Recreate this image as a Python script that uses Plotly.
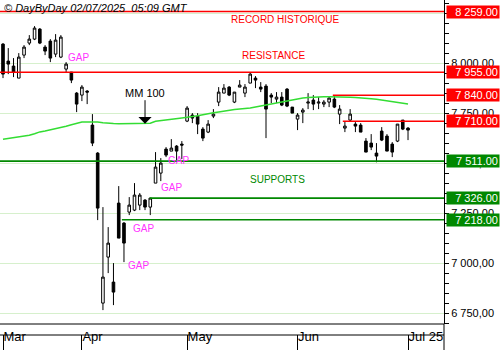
import plotly.graph_objects as go

# ---- data (CAC 40 daily, 11 Mar 2025 -> 1 Jul 2025) ----
open_ = [8096, 8011, 7986, 7926, 8041, 8101, 8121, 8171, 8081, 8111, 8046, 8031, 7971, 7956,
         7851, 7841, 7861, 7691, 7551, 6801, 7031, 6906, 7301, 7201, 7256, 7266, 7291, 7316, 7281,
         7401, 7451, 7571, 7561, 7586, 7596, 7711, 7741, 7736, 7671, 7656, 7736, 7806, 7851, 7881,
         7806, 7881, 7851, 7901, 7926, 7881, 7886, 7841, 7821, 7831, 7871, 7781, 7721, 7756, 7801,
         7816, 7801, 7796, 7806, 7821, 7746, 7676, 7716, 7696, 7691, 7611, 7601, 7551, 7661, 7636,
         7596, 7611, 7716, 7676]
high = [8101, 8076, 8026, 8051, 8091, 8141, 8186, 8176, 8091, 8121, 8146, 8141, 8006, 7956,
        7856, 7891, 7866, 7746, 7556, 7281, 7181, 7001, 7386, 7206, 7331, 7401, 7351, 7321, 7326,
        7556, 7526, 7581, 7621, 7591, 7611, 7786, 7751, 7751, 7681, 7716, 7771, 7881, 7896, 7886,
        7856, 7916, 7896, 7956, 7936, 7906, 7896, 7851, 7856, 7856, 7876, 7781, 7751, 7776, 7851,
        7841, 7831, 7816, 7831, 7840, 7791, 7711, 7771, 7706, 7701, 7626, 7646, 7601, 7681, 7646,
        7606, 7696, 7716, 7681]
low = [7926, 7946, 7931, 7926, 8026, 8091, 8116, 8096, 8041, 8006, 8031, 8026, 7956, 7901,
       7756, 7811, 7796, 7586, 7216, 6766, 6951, 6791, 7126, 7006, 7241, 7261, 7266, 7266, 7241,
       7401, 7411, 7531, 7561, 7516, 7521, 7706, 7701, 7646, 7611, 7651, 7726, 7786, 7851, 7836,
       7801, 7881, 7831, 7901, 7876, 7856, 7626, 7801, 7801, 7786, 7781, 7751, 7666, 7701, 7771,
       7766, 7771, 7781, 7781, 7776, 7696, 7656, 7711, 7656, 7656, 7556, 7566, 7505, 7611, 7561,
       7531, 7606, 7666, 7616]
close = [7946, 7996, 7956, 8031, 8081, 8121, 8176, 8101, 8061, 8026, 8116, 8131, 7996, 7916,
         7796, 7881, 7856, 7601, 7276, 6931, 7101, 6856, 7126, 7101, 7291, 7341, 7341, 7281, 7326,
         7481, 7501, 7541, 7576, 7561, 7591, 7776, 7726, 7696, 7626, 7696, 7746, 7856, 7876, 7841,
         7856, 7891, 7881, 7946, 7916, 7871, 7771, 7831, 7831, 7791, 7786, 7751, 7741, 7766, 7806,
         7796, 7806, 7806, 7826, 7781, 7771, 7686, 7746, 7686, 7656, 7556, 7581, 7536, 7616, 7561,
         7556, 7696, 7671, 7666]
ma100 = [7620, 7624, 7628, 7632, 7636, 7640, 7648, 7657, 7662, 7667, 7673, 7678, 7685, 7693,
         7700, 7706, 7707, 7708, 7706, 7703, 7700, 7699, 7698, 7698, 7698, 7697, 7697, 7698, 7700,
         7710, 7714, 7718, 7721, 7724, 7727, 7730, 7733, 7738, 7743, 7749, 7753, 7757, 7762, 7766,
         7769, 7772, 7774, 7777, 7782, 7787, 7793, 7798, 7803, 7807, 7812, 7817, 7822, 7827, 7829,
         7831, 7832, 7833, 7833, 7833, 7832, 7831, 7830, 7829, 7828, 7826, 7823, 7820, 7816, 7812,
         7808, 7804, 7800, 7796]

month_idx = [0, 15, 35, 56, 77]
month_labels = ["Mar", "Apr", "May", "Jun", "Jul 25"]

y_ticks = [6750, 7000, 7250, 7500, 7750, 8000, 8250]

# resistance / support levels
res_levels = [8259, 7955, 7840, 7710]
res_start = [None, None, 62.7, 64.6]
sup_levels = [7511, 7326, 7218]
sup_start = [None, 27.9, 22.6]

gap_x = [14.35, 33.3, 32.0, 26.8, 25.8]
gap_y = [8030, 7512, 7377, 7174, 6987]

x = list(range(len(close)))

XMIN, XMAX = -0.57, 83.84
YMIN, YMAX = 6696.5, 8316.5
XDOM = 444 / 500
YDOM0 = 26 / 350

RED = "#ff0000"
GREEN = "#008800"
FONT = "Liberation Sans, Arial, sans-serif"

fig = go.Figure()
fig.add_trace(go.Scatter(x=x, y=ma100, mode="lines",
                         line=dict(color="#33dd33", width=1.5), hoverinfo="skip"))
fig.add_trace(go.Candlestick(
    x=x, open=open_, high=high, low=low, close=close,
    increasing=dict(line=dict(color="black", width=1), fillcolor="white"),
    decreasing=dict(line=dict(color="black", width=1), fillcolor="black"),
    whiskerwidth=0, hoverinfo="skip"))

shapes = []
annotations = []


def fmt_box(v):
    return f"{v:,.2f}".replace(",", " ")


for levels, starts, col in ((res_levels, res_start, RED), (sup_levels, sup_start, GREEN)):
    for v, s in zip(levels, starts):
        if s is None:
            shapes.append(dict(type="line", xref="x domain", yref="y", x0=0, x1=1, y0=v, y1=v,
                               line=dict(color=col, width=1.6)))
        else:
            shapes.append(dict(type="line", xref="x", yref="y", x0=s, x1=XMAX, y0=v, y1=v,
                               line=dict(color=col, width=1.6)))
        annotations.append(dict(xref="paper", yref="y", x=1, y=v, xanchor="right", yanchor="middle",
                                text=fmt_box(v), showarrow=False, bgcolor=col, width=50, height=10,
                                borderpad=1, align="right",
                                font=dict(family=FONT, size=11, color="white")))

# frame lines of the date band
shapes.append(dict(type="line", xref="paper", yref="paper", x0=0, x1=XDOM, y0=YDOM0, y1=YDOM0,
                   line=dict(color="black", width=1)))
shapes.append(dict(type="line", xref="paper", yref="paper", x0=0, x1=XDOM, y0=15 / 350, y1=15 / 350,
                   line=dict(color="black", width=1)))
shapes.append(dict(type="line", xref="paper", yref="paper", x0=XDOM, x1=XDOM, y0=0, y1=YDOM0,
                   line=dict(color="black", width=1)))

for gx, gy in zip(gap_x, gap_y):
    annotations.append(dict(x=gx, y=gy, text="GAP", showarrow=False,
                            font=dict(family=FONT, size=10, color="#ff33ff")))

annotations += [
    dict(x=53.6, y=8221, text="RECORD HISTORIQUE", showarrow=False,
         font=dict(family=FONT, size=10, color=RED)),
    dict(x=51.5, y=8041, text="RESISTANCE", showarrow=False,
         font=dict(family=FONT, size=10, color=RED)),
    dict(x=52.1, y=7421, text="SUPPORTS", showarrow=False,
         font=dict(family=FONT, size=10, color=GREEN)),
    dict(x=27, y=ma100[27], text="MM 100", showarrow=True, ax=0, ay=-31,
         arrowhead=1, arrowsize=2.2, arrowwidth=1, arrowcolor="black", standoff=0,
         font=dict(family=FONT, size=11, color="black")),
    dict(xref="paper", yref="paper", x=0.004, y=1, xanchor="left", yanchor="top",
         text="<i>© DayByDay 02/07/2025\u00a0\u00a005:09 GMT</i>", showarrow=False,
         font=dict(family=FONT, size=11, color="black")),
]

fig.update_layout(
    width=500, height=350, margin=dict(l=0, r=0, t=0, b=0),
    paper_bgcolor="white", plot_bgcolor="white", showlegend=False,
    shapes=shapes, annotations=annotations,
    xaxis=dict(domain=[0, XDOM], range=[XMIN, XMAX], anchor="free", position=0,
               rangeslider=dict(visible=False), showgrid=False, zeroline=False, showline=False,
               tickmode="array", tickvals=month_idx, ticktext=month_labels,
               ticks="inside", ticklen=15, tickcolor="black", tickwidth=1,
               ticklabelposition="inside right",
               tickfont=dict(family="Liberation Sans Narrow, Arial Narrow, " + FONT, size=13,
                             color="black")),
    yaxis=dict(domain=[YDOM0, 1], range=[YMIN, YMAX], side="right", anchor="x",
               showline=True, linecolor="black", linewidth=1, zeroline=False,
               tickmode="array", tickvals=y_ticks,
               ticktext=[f"{v:,.2f}".replace(",", " ").replace(".", ",") for v in y_ticks],
               ticks="outside", ticklen=4, tickcolor="black",
               showgrid=True, gridcolor="#d6f0cc", gridwidth=1,
               minor=dict(dtick=50, tick0=0, ticks="outside", ticklen=4, tickcolor="black",
                          showgrid=False),
               tickfont=dict(family=FONT, size=11, color="black")),
)

fig.write_html("out.html")
